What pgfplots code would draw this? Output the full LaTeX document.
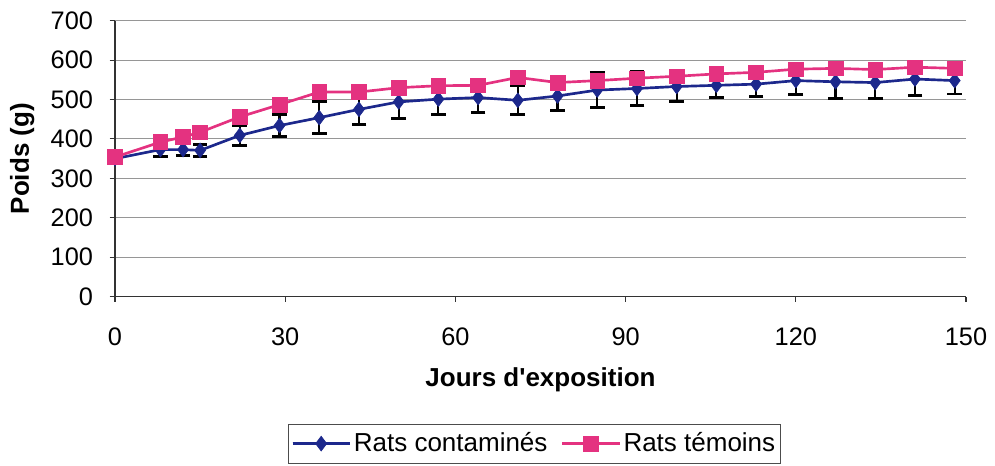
\documentclass[border=0pt]{standalone}
\usepackage{fontspec}
\setmainfont{Liberation Sans}
\usepackage{pgfplots}
\pgfplotsset{compat=1.18}
\definecolor{cblue}{RGB}{28,40,140}
\definecolor{cpink}{RGB}{228,50,128}
\definecolor{gridg}{RGB}{150,150,150}
\begin{document}
\fontsize{19pt}{22pt}\selectfont
\begin{tikzpicture}
\useasboundingbox (-86.25pt,-127pt) rectangle (660pt,222.5pt);
\begin{axis}[
  at={(0,0)}, anchor=south west,
  scale only axis, width=638.25pt, height=207pt,
  xmin=0, xmax=150, ymin=0, ymax=700,
  xtick={0,30,...,150}, ytick={0,100,...,700},
  axis lines=left, axis line style={-, line width=0.8pt, black!80},
  tick align=outside, major tick length=4pt,
  tick style={line width=0.8pt, black!80},
  ymajorgrids, major grid style={gridg, line width=0.8pt},
  /pgf/number format/assume math mode=true,
  ticklabel style={font=\fontsize{19pt}{22pt}\selectfont},
  xticklabel style={anchor=north, yshift=-12.5pt},
  yticklabel style={xshift=-6pt},
  xlabel={\textbf{Jours d\textquotesingle exposition}},
  ylabel={\textbf{Poids (g)}},
  label style={font=\fontsize{19.5pt}{22pt}\selectfont},
  xlabel style={at={(axis description cs:0.5,-0.30)}, anchor=center},
  ylabel style={at={(axis description cs:-0.109,0.5)}, anchor=center},
  legend columns=2,
  legend style={at={(0.493,-0.46)}, anchor=north, draw=black!70, line width=0.8pt,
    font=\fontsize{19.5pt}{22pt}\selectfont, inner xsep=2pt, inner ysep=4pt,
    /tikz/every even column/.append style={column sep=8pt}},
  legend image code/.code={\draw[#1] (0pt,0pt) -- (43pt,0pt); \draw[#1, mark repeat=2, mark phase=2] plot coordinates {(0pt,0pt) (21.5pt,0pt) (43pt,0pt)};},
  clip=false,
]
\addplot[color=cblue, line width=2pt, mark=diamond*, mark size=5.5pt,
  mark options={solid, fill=cblue, draw=cblue, line width=0.5pt},
  error bars/.cd, y dir=both, y explicit,
  error bar style={black, line width=1.6pt},
  error mark options={rotate=90, black, mark size=5.5pt, line width=2.2pt}]
  table[x=d, y=w, y error=e] {
d w e
0 350 4
8 373 18
12 373 15
15 371 15
22 409 26
29 434 27
36 454 40
43 475 38
50 494 43
57 501 39
64 505 37
71 498 37
78 509 38
85 524 44
92 528 43
99 533 39
106 536 31
113 539 31
120 548 35
127 545 42
134 543 40
141 552 41
148 548 34
};
\addlegendentry{Rats contaminés}
\addplot[color=cpink, line width=2pt, mark=square*, mark size=5.5pt,
  mark options={solid, fill=cpink, draw=cpink, line width=0.5pt}]
  table[x=d, y=w] {
d w
0 354
8 392
12 405
15 417
22 456
29 487
36 519
43 519
50 530
57 535
64 536
71 556
78 543
85 548
92 554
99 559
106 565
113 569
120 577
127 579
134 576
141 582
148 579
};
\addlegendentry{Rats témoins}
\end{axis}
\end{tikzpicture}
\end{document}
